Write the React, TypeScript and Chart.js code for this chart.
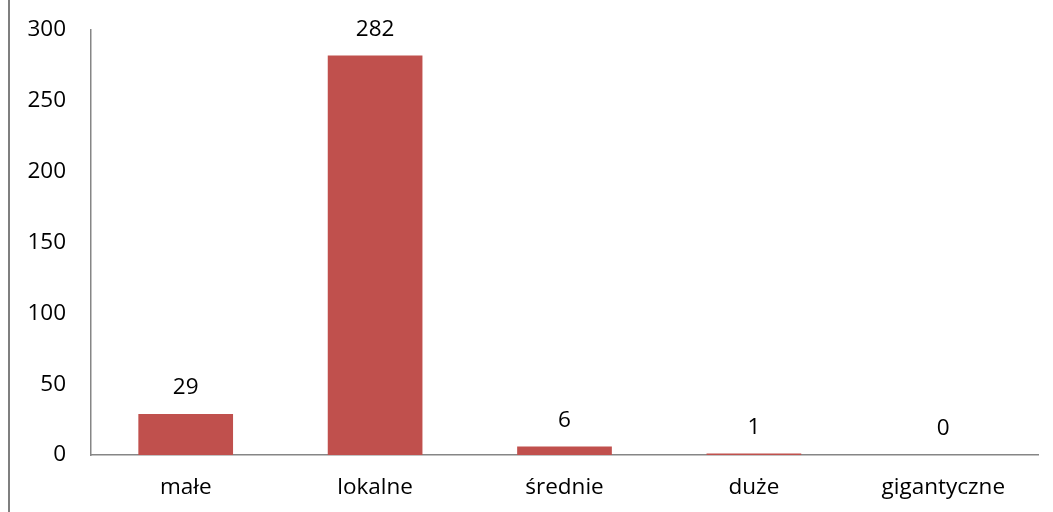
import React, { useEffect, useRef } from "react";
import { Chart, registerables } from "chart.js";

Chart.register(...registerables);

const categories = ["małe", "lokalne", "średnie", "duże", "gigantyczne"];
const values = [29, 282, 6, 1, 0];
const yTicks = [0, 50, 100, 150, 200, 250, 300];

const FONT = "'Open Sans', Lato, sans-serif";
const FS = 22.5;

const frameAndLabels = {
  id: "frameAndLabels",
  afterDatasetsDraw(chart: any) {
    const { ctx } = chart;
    ctx.save();
    ctx.strokeStyle = "#7f7f7f";
    ctx.lineWidth = 2;
    ctx.beginPath();
    ctx.moveTo(9, 0);
    ctx.lineTo(9, chart.height);
    ctx.stroke();
    const meta = chart.getDatasetMeta(0);
    ctx.fillStyle = "#000";
    ctx.font = `${FS}px ${FONT}`;
    ctx.textAlign = "center";
    ctx.textBaseline = "middle";
    meta.data.forEach((bar: any, i: number) => {
      ctx.fillText(String(values[i]), bar.x, bar.y - 26);
    });
    ctx.restore();
  },
};

export default function App() {
  const ref = useRef<HTMLCanvasElement>(null);
  useEffect(() => {
    document.body.style.margin = "0";
    const chart = new Chart(ref.current!, {
      type: "bar",
      data: {
        labels: categories,
        datasets: [
          {
            data: values,
            backgroundColor: "#C0504D",
            borderWidth: 0,
            barPercentage: 1,
            categoryPercentage: 0.5,
          },
        ],
      },
      options: {
        animation: false,
        responsive: false,
        maintainAspectRatio: false,
        layout: { padding: { top: 30, right: 15, left: 0, bottom: 0 } },
        plugins: { legend: { display: false }, tooltip: { enabled: false } },
        scales: {
          x: {
            grid: { display: false, drawTicks: false },
            border: { display: true, color: "#868686", width: 1.5 },
            ticks: { color: "#000", font: { family: FONT, size: FS }, padding: 19 },
            afterFit: (s: any) => {
              s.height = 57;
              s.paddingLeft = 0;
              s.paddingRight = 0;
            },
          },
          y: {
            min: 0,
            max: 300,
            afterBuildTicks: (s: any) => {
              s.ticks = yTicks.map((v) => ({ value: v }));
            },
            grid: { display: false, drawTicks: false },
            border: { display: true, color: "#868686", width: 1.5 },
            ticks: { color: "#000", font: { family: FONT, size: FS }, padding: 25 },
            afterFit: (s: any) => {
              s.width = 91;
              s.paddingTop = 0;
              s.paddingBottom = 0;
            },
          },
        },
      },
      plugins: [frameAndLabels],
    });
    return () => chart.destroy();
  }, []);
  return (
    <div style={{ position: "fixed", left: 0, top: 0, width: 1053, height: 512, background: "#fff" }}>
      <canvas ref={ref} width={1053} height={512} />
    </div>
  );
}
